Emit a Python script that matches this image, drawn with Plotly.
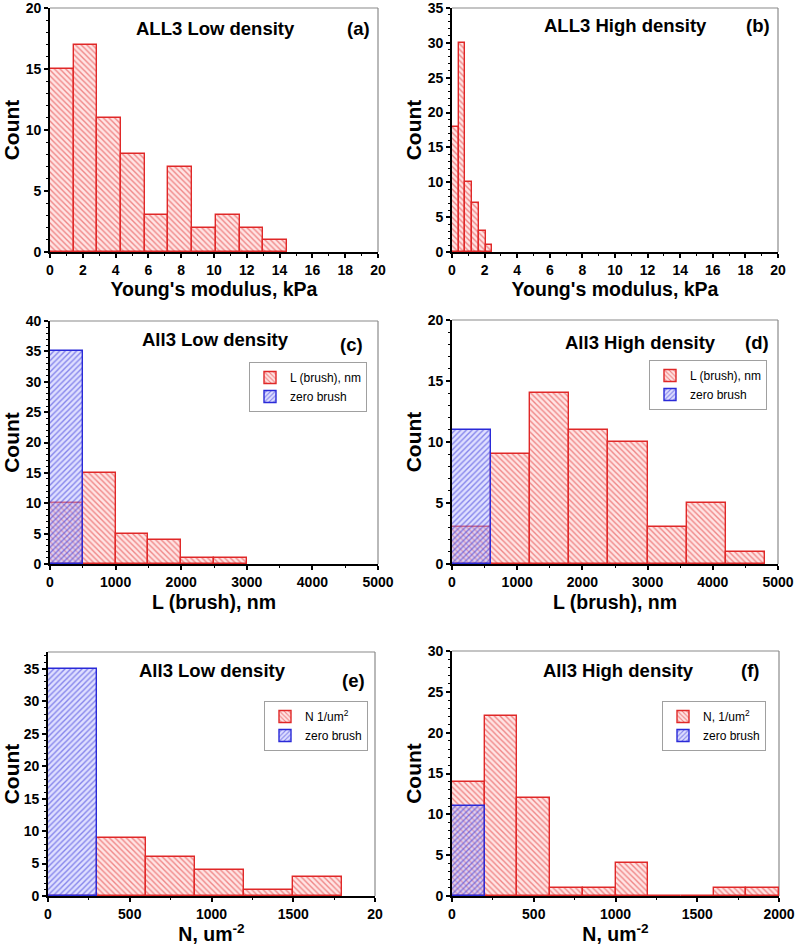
import plotly.graph_objects as go

# ---------------- data ----------------
# (a) ALL3 Low density – Young's modulus
a_start, a_width = 0.0, 1.445
a_counts = [15, 17, 11, 8, 3, 7, 2, 3, 2, 1]
# (b) ALL3 High density – Young's modulus
b_start, b_width = 0.0, 0.412
b_counts = [18, 30, 10, 7, 3, 1]
# (c) All3 Low density – L (brush)
c_start, c_width = 0.0, 500.0
c_brush = [10, 15, 5, 4, 1, 1]
c_zero = [35]
# (d) All3 High density – L (brush)
d_start, d_width = 0.0, 600.0
d_brush = [3, 9, 14, 11, 10, 3, 5, 1]
d_zero = [11]
# (e) All3 Low density – N
e_start, e_width = 0.0, 300.0
e_brush = [0, 9, 6, 4, 1, 3]
e_zero = [35]
# (f) All3 High density – N
f_start, f_width = 0.0, 200.0
f_brush = [14, 22, 12, 1, 1, 4, 0, 0, 1, 1]
f_zero = [11]

xtick_e_vals = [0, 500, 1000, 1500, 2000]
xtick_e_text = ["0", "500", "1000", "1500", "20"]

W, H = 800, 945
FONT = "Liberation Sans, Arial, sans-serif"
RED_LINE = "#e02828"
RED_BG = "rgba(255,228,228,1)"
BLUE_LINE = "#2a2ad8"
BLUE_BG = "rgba(185,185,255,0.45)"

fig = go.Figure()

# panel pixel boxes: (left, right, top, bottom)
panels = {
    "a": (50, 378, 8, 252),
    "b": (452, 778, 8, 252),
    "c": (50, 378, 321, 564),
    "d": (452, 778, 320, 564),
    "e": (48, 375, 652, 896),
    "f": (452, 779, 651, 896),
}
order = ["a", "b", "c", "d", "e", "f"]


def starts(s, w, n):
    return [s + i * w for i in range(n)]


def red_bar(counts, s, w, idx, name=None, legend=None):
    return go.Bar(
        x=starts(s, w, len(counts)), y=counts, width=w, offset=0,
        xaxis="x" + ("" if idx == 1 else str(idx)),
        yaxis="y" + ("" if idx == 1 else str(idx)),
        marker=dict(color=RED_BG, line=dict(color=RED_LINE, width=1.4),
                    pattern=dict(shape="\\", fgcolor=RED_LINE, size=4,
                                 solidity=0.35, fillmode="overlay")),
        name=name or "", showlegend=name is not None,
        legend=legend or "legend", hoverinfo="skip",
    )


def blue_bar(counts, s, w, idx, legend):
    return go.Bar(
        x=starts(s, w, len(counts)), y=counts, width=w, offset=0,
        xaxis="x" + str(idx), yaxis="y" + str(idx),
        marker=dict(color=BLUE_BG, line=dict(color=BLUE_LINE, width=1.4),
                    pattern=dict(shape="/", fgcolor=BLUE_LINE, size=4,
                                 solidity=0.35, fillmode="overlay")),
        name="zero brush", showlegend=True, legend=legend, hoverinfo="skip",
    )


fig.add_trace(red_bar(a_counts, a_start, a_width, 1))
fig.add_trace(red_bar(b_counts, b_start, b_width, 2))
fig.add_trace(red_bar(c_brush, c_start, c_width, 3, "L (brush), nm", "legend2"))
fig.add_trace(blue_bar(c_zero, c_start, c_width, 3, "legend2"))
fig.add_trace(red_bar(d_brush, d_start, d_width, 4, "L (brush), nm", "legend3"))
fig.add_trace(blue_bar(d_zero, d_start, d_width, 4, "legend3"))
fig.add_trace(red_bar(e_brush, e_start, e_width, 5, "N 1/um<sup>2</sup>", "legend4"))
fig.add_trace(blue_bar(e_zero, e_start, e_width, 5, "legend4"))
fig.add_trace(red_bar(f_brush, f_start, f_width, 6, "N, 1/um<sup>2</sup>", "legend5"))
fig.add_trace(blue_bar(f_zero, f_start, f_width, 6, "legend5"))

axis_cfg = {
    "a": dict(xr=[0, 20], xd=2, xm=1, yr=[0, 20], yd=5, ym=1, xt="Young's modulus, kPa", xs=0),
    "b": dict(xr=[0, 20], xd=2, xm=1, yr=[0, 35], yd=5, ym=1, xt="Young's modulus, kPa", xs=0),
    "c": dict(xr=[0, 5000], xd=1000, xm=500, yr=[0, 40], yd=5, ym=1, xt="L (brush), nm", xs=7),
    "d": dict(xr=[0, 5000], xd=1000, xm=500, yr=[0, 20], yd=5, ym=1, xt="L (brush), nm", xs=7),
    "e": dict(xr=[0, 2000], xd=500, xm=250, yr=[0, 37.6], yd=5, ym=1, xt="N, um<sup>-2</sup>", xs=6),
    "f": dict(xr=[0, 2000], xd=500, xm=250, yr=[0, 30], yd=5, ym=1, xt="N, um<sup>-2</sup>", xs=6),
}

tickfont = dict(family=FONT, size=14, color="black", weight="bold")
titlefont = dict(family=FONT, size=19.5, color="black", weight="bold")

shapes = []
for i, p in enumerate(order, start=1):
    l, r, t, b = panels[p]
    cfg = axis_cfg[p]
    xd = [l / W, r / W]
    yd = [1 - b / H, 1 - t / H]
    sfx = "" if i == 1 else str(i)
    xa = dict(
        domain=xd, range=cfg["xr"], anchor="y" + sfx, automargin=False,
        showline=True, linecolor="black", linewidth=1.8, mirror=False,
        ticks="outside", ticklen=4, tickwidth=1.5, tickcolor="black",
        showgrid=False, zeroline=False, tickfont=tickfont, ticklabeloverflow="allow",
        minor=dict(dtick=cfg["xm"], ticks="outside", ticklen=2.5, tickcolor="black", tickwidth=1),
        title=dict(text=cfg["xt"], font=titlefont, standoff=cfg["xs"]),
    )
    if p == "e":
        xa.update(tickmode="array", tickvals=xtick_e_vals, ticktext=xtick_e_text)
    else:
        xa.update(dtick=cfg["xd"], tick0=0)
    ya = dict(
        domain=yd, range=cfg["yr"], anchor="x" + sfx, automargin=False,
        showline=True, linecolor="black", linewidth=1.8, mirror=False,
        ticks="outside", ticklen=4, tickwidth=1.5, tickcolor="black",
        dtick=cfg["yd"], tick0=0, ticklabeloverflow="allow",
        showgrid=False, zeroline=False, tickfont=tickfont,
        minor=dict(dtick=cfg["ym"], ticks="outside", ticklen=2, tickcolor="black", tickwidth=1),
        title=dict(text="Count", font=dict(family=FONT, size=21, color="black", weight="bold"), standoff=0),
    )
    fig.layout["xaxis" + sfx] = xa
    fig.layout["yaxis" + sfx] = ya
    # light frame top & right
    shapes.append(dict(type="line", xref="paper", yref="paper", x0=xd[0], x1=xd[1], y0=yd[1], y1=yd[1],
                       line=dict(color="#8a8a8a", width=1.2), layer="below"))
    shapes.append(dict(type="line", xref="paper", yref="paper", x0=xd[1], x1=xd[1], y0=yd[0], y1=yd[1],
                       line=dict(color="#8a8a8a", width=1.2), layer="below"))

# panel titles (centre x px, centre y px, text) and labels
titles = [
    (215, 28, "ALL3 Low density"), (358, 28, "(a)"),
    (625, 26, "ALL3 High density"), (758, 26, "(b)"),
    (215, 339, "All3 Low density"), (351, 344, "(c)"),
    (640, 343, "All3 High density"), (757, 343, "(d)"),
    (212, 670, "All3 Low density"), (353, 680, "(e)"),
    (618, 670, "All3 High density"), (750, 670, "(f)"),
]
annotations = []
for x, y, txt in titles:
    annotations.append(dict(x=x / W, y=1 - y / H, xref="paper", yref="paper", text=txt,
                            showarrow=False, xanchor="center", yanchor="middle",
                            font=dict(family=FONT, size=18.5, color="black", weight="bold")))

leg_common = dict(font=dict(family=FONT, size=12, color="black"), bgcolor="white",
                  bordercolor="#a0a0a0", borderwidth=1, xanchor="left", yanchor="top",
                  tracegroupgap=0, itemwidth=30, traceorder="normal")
legpos = {"legend2": (249, 362), "legend3": (649, 360), "legend4": (264, 701), "legend5": (662, 701)}
for k, (x, y) in legpos.items():
    fig.layout[k] = dict(x=x / W, y=1 - y / H, **leg_common)

fig.update_layout(
    width=W, height=H, margin=dict(l=0, r=0, t=0, b=0, autoexpand=False),
    paper_bgcolor="white", plot_bgcolor="white",
    barmode="overlay", bargap=0,
    shapes=shapes, annotations=annotations,
    font=dict(family=FONT),
    showlegend=True,
)

fig.write_html(
    "out.html",
    config={"displayModeBar": False},
    post_script="document.body.style.margin='0';document.body.style.padding='0';"
                "document.documentElement.style.overflow='hidden';",
)
